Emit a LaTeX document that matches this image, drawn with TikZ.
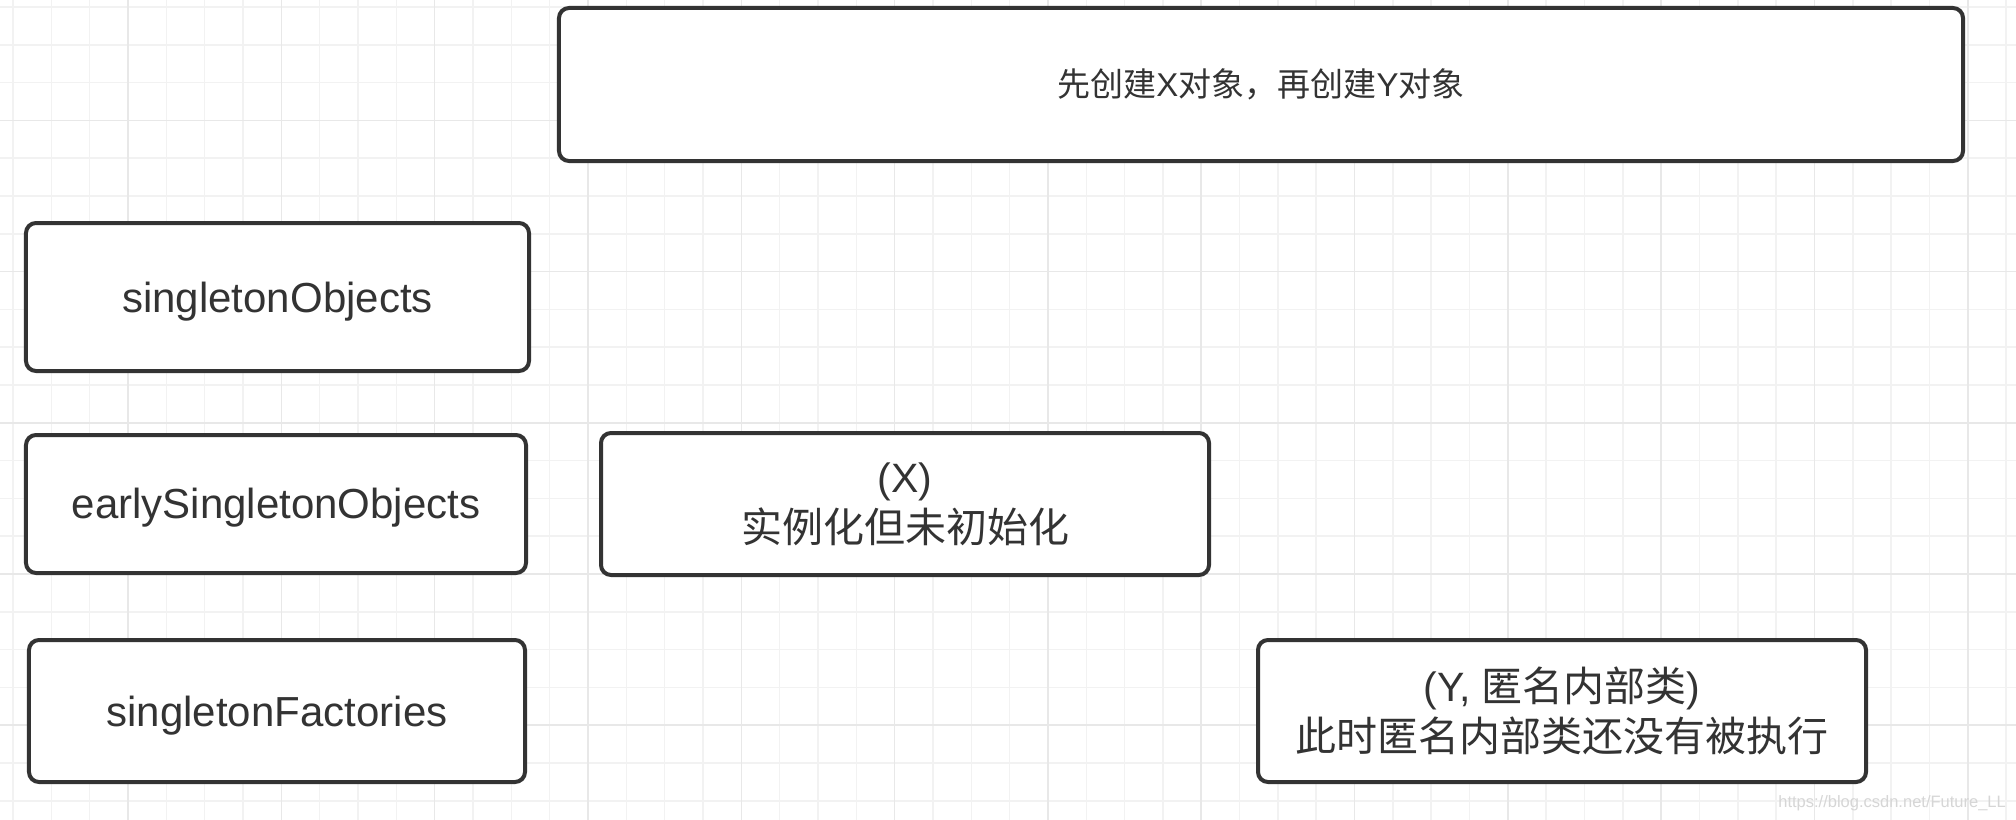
\documentclass[tikz,border=0pt]{standalone}
\usepackage{fontspec}
\setmainfont{Liberation Sans}
\newfontfamily\cjk{Noto Sans CJK SC}
\definecolor{boxc}{HTML}{333333}
\definecolor{txtc}{HTML}{333333}
\definecolor{gridminor}{HTML}{F2F2F2}
\definecolor{gridmajor}{HTML}{E8E8E8}
\definecolor{wmc}{HTML}{D6D6D6}
\begin{document}
\begin{tikzpicture}[x=1bp,y=-1bp,
  box/.style={draw=boxc, line width=4bp, rounded corners=10bp, fill=white,
    inner sep=0pt, text=txtc, align=center},
  lab/.style={font=\fontsize{42bp}{50bp}\selectfont},
  twoline/.style={font=\fontsize{41bp}{50bp}\selectfont}]
\useasboundingbox (0,0) rectangle (2016,820);
\fill[white] (0,0) rectangle (2016,820);
% grid
\foreach \k in {0,...,52}{
  \draw[gridminor, line width=1.5bp] ({13+38.33*\k},0) -- ({13+38.33*\k},820);
}
\foreach \j in {0,...,21}{
  \draw[gridminor, line width=1.5bp] (0,{7+37.8*\j}) -- (2016,{7+37.8*\j});
}
\foreach \k in {3,7,...,51}{
  \draw[gridmajor, line width=1.5bp] ({13+38.33*\k},0) -- ({13+38.33*\k},820);
}
\foreach \j in {3,7,...,19}{
  \draw[gridmajor, line width=1.5bp] (0,{7+37.8*\j}) -- (2016,{7+37.8*\j});
}
% boxes
\node[box, minimum width=1404bp, minimum height=153bp,
  font=\fontsize{33bp}{40bp}\selectfont] (top) at (1261,84.5)
  {{\cjk 先创建}X{\cjk 对象，再创建}Y{\cjk 对象}};
\node[box, minimum width=503bp, minimum height=148bp] (so) at (277.5,297) {};
\node[box, minimum width=500bp, minimum height=138bp] (eso) at (276,504) {};
\node[box, minimum width=496bp, minimum height=142bp] (sf) at (277,711) {};
\node[lab, text=txtc, inner sep=0pt, yshift=-5bp] (sot) at (so.center) {singletonObjects};
\node[lab, text=txtc, inner sep=0pt, yshift=-4bp] (esot) at (eso.center) {earlySingletonObjects};
\node[lab, text=txtc, inner sep=0pt, yshift=-5bp] (sft) at (sf.center) {singletonFactories};
\node[box, twoline, minimum width=608bp, minimum height=142bp] (xo) at (905,504)
  {(X)\\{\cjk 实例化但未初始化}};
\node[box, twoline, minimum width=608bp, minimum height=142bp] (yo) at (1562,711)
  {(Y, {\cjk 匿名内部类})\\{\cjk 此时匿名内部类还没有被执行}};
% watermark
\node[anchor=base east, inner sep=0pt, text=wmc, font=\fontsize{16.5bp}{20bp}\selectfont] (wm) at (2006,807)
  {https://blog.csdn.net/Future\_LL};
\end{tikzpicture}
\end{document}
